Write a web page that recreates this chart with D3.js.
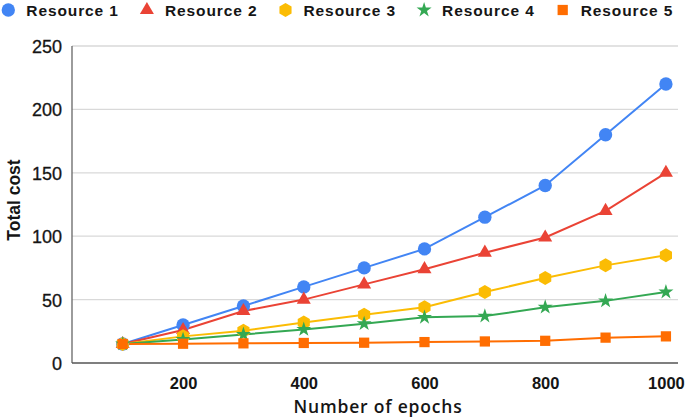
<!DOCTYPE html>
<html><head><meta charset="utf-8">
<script src="https://cdn.jsdelivr.net/npm/d3@7"></script>
<style>html,body{margin:0;padding:0;background:#fff;}svg{display:block;}</style>
</head><body>
<svg id="chart" width="685" height="420"></svg>
<script>
const epochs = [100, 200, 300, 400, 500, 600, 700, 800, 900, 1000];
const seriesNames = ["Resource 1", "Resource 2", "Resource 3", "Resource 4", "Resource 5"];
const resource1 = [15, 30, 45, 60, 75, 90, 115, 140, 180, 220];
const resource2 = [15, 26, 41, 50, 62, 74, 87, 99, 120, 150];
const resource3 = [15, 21, 25.5, 32, 38, 44, 56, 67, 77, 85];
const resource4 = [15, 18.5, 22.5, 26.5, 31, 36, 37, 44, 49, 56];
const resource5 = [15, 15.2, 15.5, 15.8, 16, 16.5, 17, 17.5, 20, 21];
const xTicks = [200, 400, 600, 800, 1000];
const yTicks = [0, 50, 100, 150, 200, 250];
const colors = ["#4285F4", "#EA4335", "#FBBC04", "#34A853", "#FF6D01"];
const shapes = ["circle", "triangle", "hexagon", "star", "square"];

const series = [resource1, resource2, resource3, resource4, resource5].map((vals, i) => ({
  name: seriesNames[i], color: colors[i], shape: shapes[i],
  points: vals.map((v, j) => ({x: epochs[j], y: v}))
}));

const svg = d3.select("#chart");
const x = d3.scaleLinear().domain([16, 1020]).range([72, 678]);
const y = d3.scaleLinear().domain([0, 250]).range([363, 46]);
const textColor = "#151515";

function shapePath(shape) {
  if (shape === "hexagon") {
    const r = 7;
    const pts = d3.range(6).map(k => {
      const a = Math.PI / 6 + k * Math.PI / 3;
      return [r * Math.cos(a), r * Math.sin(a)];
    });
    return "M" + pts.map(p => p.join(",")).join("L") + "Z";
  }
  if (shape === "circle") return d3.symbol(d3.symbolCircle, 140)();
  if (shape === "triangle") return d3.symbol(d3.symbolTriangle, 85)();
  if (shape === "star") return d3.symbol(d3.symbolStar, 70)();
  return d3.symbol(d3.symbolSquare, 105)();
}

// gridlines
svg.append("g").selectAll("line").data(yTicks.filter(t => t > 0)).join("line")
  .attr("x1", 72).attr("x2", 678)
  .attr("y1", d => y(d)).attr("y2", d => y(d))
  .attr("stroke", "#d9d9d9").attr("stroke-width", 1.3);

// y axis labels
const yAxis = d3.axisLeft(y).tickValues(yTicks).tickSize(0).tickPadding(10).tickFormat(d3.format("d"));
const yg = svg.append("g").attr("transform", "translate(72,0)").call(yAxis);
yg.select(".domain").remove();
yg.selectAll("text").attr("font-family", "Liberation Sans, Arial, sans-serif")
  .attr("font-size", 18).attr("fill", textColor).attr("stroke", textColor).attr("stroke-width", 0.3)
  .attr("dy", "0.36em");

// x axis labels
const xAxis = d3.axisBottom(x).tickValues(xTicks).tickSize(0).tickPadding(0).tickFormat(d3.format("d"));
const xg = svg.append("g").attr("transform", "translate(0,363)").call(xAxis);
xg.select(".domain").remove();
xg.selectAll("text").attr("font-family", "Liberation Sans, Arial, sans-serif")
  .attr("font-size", 16.5).attr("font-weight", "bold").attr("fill", textColor)
  .attr("dy", null).attr("y", 26);

// axis lines
svg.append("line").attr("x1", 72).attr("x2", 72).attr("y1", 46).attr("y2", 363)
  .attr("stroke", "#666").attr("stroke-width", 1.3);
svg.append("line").attr("x1", 72).attr("x2", 678).attr("y1", 363).attr("y2", 363)
  .attr("stroke", "#555").attr("stroke-width", 1.5);

// lines
const line = d3.line().x(d => x(d.x)).y(d => y(d.y));
series.forEach(s => {
  svg.append("path").datum(s.points).attr("d", line)
    .attr("fill", "none").attr("stroke", s.color).attr("stroke-width", 2);
});
series.forEach(s => {
  svg.append("g").selectAll("path").data(s.points).join("path")
    .attr("d", shapePath(s.shape))
    .attr("transform", d => `translate(${x(d.x)},${y(d.y)})`)
    .attr("fill", s.color);
});

// axis titles
svg.append("text").attr("x", 378).attr("y", 413).attr("text-anchor", "middle")
  .attr("font-family", "Open Sans, sans-serif").attr("font-weight", 600)
  .attr("font-size", 17.5).attr("letter-spacing", 0.8).attr("fill", textColor).text("Number of epochs");
svg.append("text").attr("transform", "translate(19.5,200) rotate(-90)").attr("text-anchor", "middle")
  .attr("font-family", "Liberation Sans, Arial, sans-serif").attr("font-weight", "bold")
  .attr("font-size", 17.5).attr("fill", textColor).text("Total cost");

// legend
const legend = svg.append("g").selectAll("g").data(series).join("g")
  .attr("transform", (d, i) => `translate(${8.3 + i * 138.6},10)`);
legend.append("path").attr("d", d => shapePath(d.shape)).attr("fill", d => d.color);
legend.append("text").attr("x", 18).attr("y", 5.5)
  .attr("font-family", "Liberation Sans, Arial, sans-serif").attr("font-weight", "bold")
  .attr("font-size", 15.5).attr("letter-spacing", 0.9).attr("fill", textColor).text(d => d.name);
</script>
</body></html>
